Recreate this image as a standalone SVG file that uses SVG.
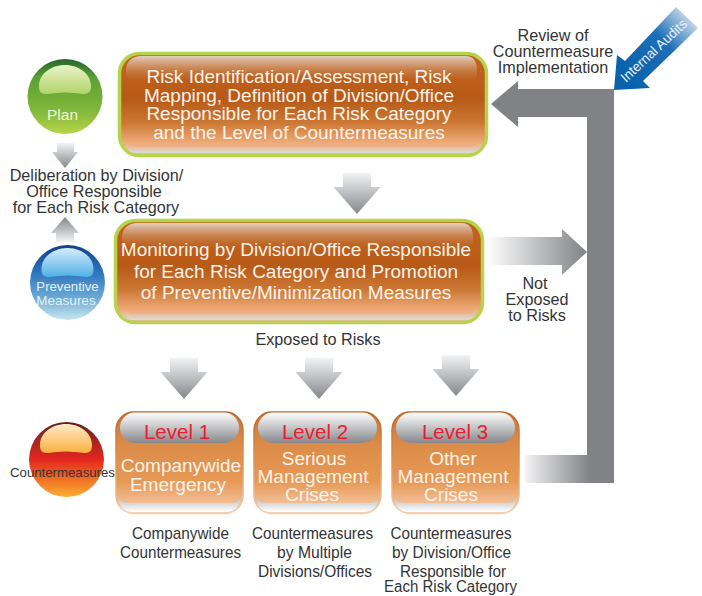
<svg xmlns="http://www.w3.org/2000/svg" width="702" height="596" viewBox="0 0 702 596">
<style>
text{font-family:"Liberation Sans",Arial,sans-serif;text-anchor:middle}
.d{fill:#333436;font-size:16.2px}
.n{fill:#333436;font-size:17px}
.w{fill:#fdf3ea;font-size:19px}
.s{fill:#fdf3ea;font-size:19px}
.r{fill:#ed1c2e;font-size:20.500px}
.bar{fill:url(#greyDown)}
</style>
<defs>
<linearGradient id="boxFill" x1="0" y1="0" x2="0" y2="1"><stop offset="0" stop-color="#c4641c"/><stop offset=".45" stop-color="#b85a18"/><stop offset=".68" stop-color="#cc7834"/><stop offset=".88" stop-color="#efac7a"/><stop offset="1" stop-color="#e8c4ac"/></linearGradient>
<linearGradient id="gloss" x1="0" y1="0" x2="0" y2="1"><stop offset="0" stop-color="#e4d6cc" stop-opacity=".95"/><stop offset="1" stop-color="#bc6220" stop-opacity=".35"/></linearGradient>
<linearGradient id="shineB" x1="0" y1="0" x2="0" y2="1"><stop offset="0" stop-color="#efb088" stop-opacity="0"/><stop offset="1" stop-color="#dcdcdc"/></linearGradient>
<linearGradient id="lvl" x1="0" y1="0" x2="0" y2="1"><stop offset="0" stop-color="#c8743a"/><stop offset=".32" stop-color="#dc8c49"/><stop offset=".68" stop-color="#e69855"/><stop offset=".84" stop-color="#efb484"/><stop offset="1" stop-color="#f5d0b0"/></linearGradient>
<linearGradient id="lvlS" x1="0" y1="0" x2="0" y2="1"><stop offset="0" stop-color="#b9652a"/><stop offset=".5" stop-color="#e09450"/><stop offset="1" stop-color="#f5cfae"/></linearGradient>
<linearGradient id="hdr" x1="0" y1="0" x2="0" y2="1"><stop offset="0" stop-color="#ffffff"/><stop offset="1" stop-color="#87888c"/></linearGradient>
<linearGradient id="foot" x1="0" y1="0" x2="0" y2="1"><stop offset="0" stop-color="#b8bbc0"/><stop offset="1" stop-color="#ffffff"/></linearGradient>
<linearGradient id="greyDown" x1="0" y1="0" x2="0" y2="1"><stop offset="0" stop-color="#f2f3f4"/><stop offset="1" stop-color="#85878b"/></linearGradient>
<linearGradient id="greyUp" x1="0" y1="1" x2="0" y2="0"><stop offset="0" stop-color="#f2f3f4"/><stop offset="1" stop-color="#85878b"/></linearGradient>
<linearGradient id="greyRight" gradientUnits="userSpaceOnUse" x1="487" y1="0" x2="587" y2="0"><stop offset="0" stop-color="#ffffff"/><stop offset="1" stop-color="#808285"/></linearGradient>
<linearGradient id="greyBottom" gradientUnits="userSpaceOnUse" x1="525" y1="0" x2="590" y2="0"><stop offset="0" stop-color="#f4f4f5"/><stop offset="1" stop-color="#808285"/></linearGradient>
<linearGradient id="blue" gradientUnits="userSpaceOnUse" x1="625" y1="78" x2="690" y2="17"><stop offset="0" stop-color="#0a62ac"/><stop offset=".6" stop-color="#1b6fb5"/><stop offset="1" stop-color="#c8d8ea"/></linearGradient>
<linearGradient id="gPlan" x1="0" y1="0" x2="0" y2="1"><stop offset="0" stop-color="#27662f"/><stop offset=".25" stop-color="#5aa033"/><stop offset=".7" stop-color="#82b93c"/><stop offset="1" stop-color="#b8d548"/></linearGradient>
<linearGradient id="gPrev" x1="0" y1="0" x2="0" y2="1"><stop offset="0" stop-color="#123f8c"/><stop offset=".35" stop-color="#2a72bb"/><stop offset=".7" stop-color="#6aa9d6"/><stop offset="1" stop-color="#c8e6ee"/></linearGradient>
<linearGradient id="gCntr" x1="0" y1="0" x2="0" y2="1"><stop offset="0" stop-color="#5a2320"/><stop offset=".2" stop-color="#9c2320"/><stop offset=".5" stop-color="#e4271f"/><stop offset=".8" stop-color="#f27a26"/><stop offset="1" stop-color="#fbae34"/></linearGradient>
<linearGradient id="hPlan" x1="0" y1="0" x2="0" y2="1"><stop offset="0" stop-color="#e9f3c8"/><stop offset="1" stop-color="#b2d468"/></linearGradient>
<linearGradient id="hPrev" x1="0" y1="0" x2="0" y2="1"><stop offset="0" stop-color="#d6edf8"/><stop offset="1" stop-color="#4fb0e8"/></linearGradient>
<linearGradient id="hCntr" x1="0" y1="0" x2="0" y2="1"><stop offset="0" stop-color="#fdebc8"/><stop offset="1" stop-color="#fbb040"/></linearGradient>
<path id="hl" d="M-26,-11C-26,-23 -14,-32 0,-32C14,-32 26,-23 26,-11C26,-5 24,-3 18,-3C6,-5 -6,-5 -18,-3C-24,-3 -26,-5 -26,-11Z"/>
<path id="down" class="bar" d="M-14,0H14V14H23.500L0,41L-23.500,14H-14Z"/>
</defs>

<g id="connectors">
<path fill="#808285" d="M614,89V483H525V455H587V117H518V127L491,104L518,81V89Z"/>
<rect x="525" y="455" width="65" height="28" fill="url(#greyBottom)"/>
<path fill="url(#greyRight)" d="M487,237H562V229L587,252L562,275V265H487Z"/>
<use href="#down" x="184" y="358"/>
<use href="#down" x="319" y="358"/>
<use href="#down" x="456" y="355"/>
<use href="#down" x="357" y="173"/>
<path fill="url(#greyDown)" d="M57,143H74V152H78L65,168L52,152H57Z"/>
<path fill="url(#greyUp)" d="M56,242H74V233H79L65,217L51,233H56Z"/>
</g>

<g id="internal-audits">
<path fill="url(#blue)" d="M614,90L617,55L625,61L676,7L698,28L643,81L650,88Z"/>
<text transform="translate(657,54) rotate(-43)" font-size="14" textLength="85" lengthAdjust="spacingAndGlyphs" fill="#e8f0f8">Internal Audits</text>
</g>

<g id="review-label">
<text class="d" x="553" y="41">Review of</text>
<text class="d" x="553" y="57">Countermeasure</text>
<text class="d" x="553" y="73">Implementation</text>
</g>

<g id="box-identify">
<rect x="119.500" y="53.500" width="367" height="102" rx="20" fill="url(#boxFill)" stroke="#b5d34b" stroke-width="3.500"/>
<path d="M126,74V70C126,61 133,56 141,56H466C473,56 477,61 477,70V74C477,78 474,80 470,80H134C129,80 126,78 126,74Z" fill="url(#gloss)"/>
<path d="M124,141C128,146 134,147 140,147H466C472,147 478,146 482,141C482,149 477,153 470,153H136C129,153 124,149 124,141Z" fill="url(#shineB)"/>
<text class="w" x="299" y="83">Risk Identification/Assessment, Risk</text>
<text class="w" x="299" y="102">Mapping, Definition of Division/Office</text>
<text class="w" x="299" y="120">Responsible for Each Risk Category</text>
<text class="w" x="299" y="139">and the Level of Countermeasures</text>
</g>

<g id="box-monitor">
<rect x="115.500" y="220.500" width="367" height="102" rx="20" fill="url(#boxFill)" stroke="#b5d34b" stroke-width="3.500"/>
<path d="M122,241V237C122,228 129,223 137,223H462C469,223 473,228 473,237V241C473,245 470,247 466,247H130C125,247 122,245 122,241Z" fill="url(#gloss)"/>
<path d="M120,308C124,313 130,314 136,314H462C468,314 474,313 478,308C478,316 473,320 466,320H132C125,320 120,316 120,308Z" fill="url(#shineB)"/>
<text class="w" x="296" y="256">Monitoring by Division/Office Responsible</text>
<text class="w" x="296" y="278">for Each Risk Category and Promotion</text>
<text class="w" x="296" y="299">of Preventive/Minimization Measures</text>
</g>

<g id="level-1">
<rect x="116" y="412" width="127" height="101.500" rx="18" fill="url(#lvl)" stroke="url(#lvlS)" stroke-width="1.500"/>
<rect x="120" y="412.500" width="119" height="30.500" rx="15" fill="url(#hdr)"/>
<path d="M118,497C120,502 124,503 130,503H230C236,503 239,502 241,497C240,507 234,512 226,512H132C124,512 119,507 118,497Z" fill="url(#foot)"/>
<text class="r" x="177" y="439">Level 1</text>
<text class="s" x="181" y="472">Companywide</text>
<text class="s" x="178" y="491">Emergency</text>
</g>
<g id="level-2">
<rect x="254" y="412" width="127" height="101.500" rx="18" fill="url(#lvl)" stroke="url(#lvlS)" stroke-width="1.500"/>
<rect x="258" y="412.500" width="119" height="30.500" rx="15" fill="url(#hdr)"/>
<path d="M256,497C258,502 262,503 268,503H368C374,503 377,502 379,497C378,507 372,512 364,512H270C262,512 257,507 256,497Z" fill="url(#foot)"/>
<text class="r" x="315" y="439">Level 2</text>
<text class="s" x="314" y="465">Serious</text>
<text class="s" x="313" y="483">Management</text>
<text class="s" x="312" y="501">Crises</text>
</g>
<g id="level-3">
<rect x="392" y="412" width="127" height="101.500" rx="18" fill="url(#lvl)" stroke="url(#lvlS)" stroke-width="1.500"/>
<rect x="396" y="412.500" width="119" height="30.500" rx="15" fill="url(#hdr)"/>
<path d="M394,497C396,502 400,503 406,503H506C512,503 515,502 517,497C516,507 510,512 502,512H408C400,512 395,507 394,497Z" fill="url(#foot)"/>
<text class="r" x="455" y="439">Level 3</text>
<text class="s" x="453" y="465">Other</text>
<text class="s" x="453" y="483">Management</text>
<text class="s" x="451" y="501">Crises</text>
</g>

<g id="circle-plan">
<circle cx="65" cy="96.500" r="37.500" fill="url(#gPlan)"/>
<use href="#hl" x="65" y="97" fill="url(#hPlan)"/>
<text x="62.500" y="120" font-size="15.500" fill="#f1f7dc">Plan</text>
</g>
<g id="circle-preventive">
<circle cx="67.500" cy="282.500" r="37.500" fill="url(#gPrev)"/>
<use href="#hl" x="67.500" y="280" fill="url(#hPrev)"/>
<text x="67.500" y="291" font-size="13.200" fill="#e4f2fa">Preventive</text>
<text x="66" y="305" font-size="13.500" fill="#e4f2fa">Measures</text>
</g>
<g id="circle-countermeasures">
<circle cx="66.500" cy="459.500" r="37.500" fill="url(#gCntr)"/>
<use href="#hl" x="66" y="456" fill="url(#hCntr)"/>
<text x="62.500" y="477" font-size="13.200" fill="#333436">Countermeasures</text>
</g>

<g id="labels">
<text class="d" x="96.500" y="181">Deliberation by Division/</text>
<text class="d" x="94" y="197">Office Responsible</text>
<text class="d" x="96" y="213">for Each Risk Category</text>
<text class="d" x="318" y="345">Exposed to Risks</text>
<text class="d" x="535" y="289">Not</text>
<text class="d" x="537" y="305">Exposed</text>
<text class="d" x="537" y="321">to Risks</text>
<text class="n" x="180.500" y="539" textLength="97" lengthAdjust="spacingAndGlyphs">Companywide</text>
<text class="n" x="180.500" y="558" textLength="121" lengthAdjust="spacingAndGlyphs">Countermeasures</text>
<text class="n" x="312.500" y="539" textLength="121" lengthAdjust="spacingAndGlyphs">Countermeasures</text>
<text class="n" x="314.500" y="558" textLength="75" lengthAdjust="spacingAndGlyphs">by Multiple</text>
<text class="n" x="315" y="577" textLength="114" lengthAdjust="spacingAndGlyphs">Divisions/Offices</text>
<text class="n" x="451" y="539" textLength="121" lengthAdjust="spacingAndGlyphs">Countermeasures</text>
<text class="n" x="451.500" y="558" textLength="119" lengthAdjust="spacingAndGlyphs">by Division/Office</text>
<text class="n" x="453" y="577" textLength="106" lengthAdjust="spacingAndGlyphs">Responsible for</text>
<text class="n" x="450.500" y="592" font-size="16" style="font-size:16px" textLength="133" lengthAdjust="spacingAndGlyphs">Each Risk Category</text>
</g>
</svg>
